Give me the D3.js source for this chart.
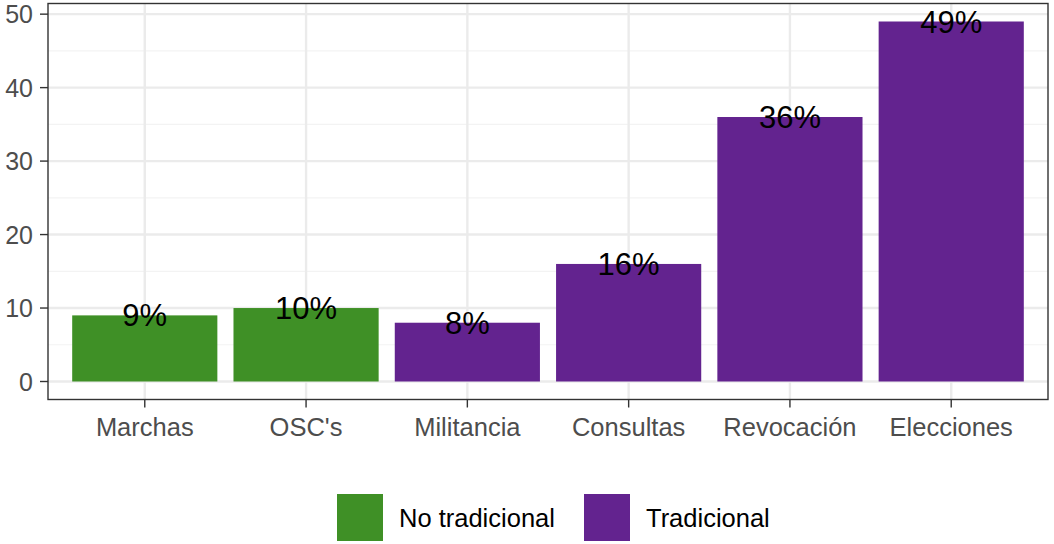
<!DOCTYPE html>
<html>
<head>
<meta charset="utf-8">
<script src="https://d3js.org/d3.v7.min.js"></script>
<style>
  body { margin: 0; background: #fff; }
  text { font-family: "Liberation Sans", Arial, sans-serif; }
</style>
</head>
<body>
<svg width="1054" height="544"></svg>
<script>
var categories = ["Marchas", "OSC's", "Militancia", "Consultas", "Revocación", "Elecciones"];
var values = [9, 10, 8, 16, 36, 49];
var groups = ["No tradicional", "No tradicional", "Tradicional", "Tradicional", "Tradicional", "Tradicional"];
var legendKeys = ["No tradicional", "Tradicional"];
var legendColors = ["#3F9026", "#63238F"];
var yTicks = [0, 10, 20, 30, 40, 50];
var yMinor = [5, 15, 25, 35, 45];

var svg = d3.select("svg");
var panel = {left: 48, right: 1048, top: 3.5, bottom: 399.5};

var y = d3.scaleLinear().domain([-2.45, 51.45]).range([panel.bottom, panel.top]);
var xc = d3.scaleLinear().domain([0.4, 6.6]).range([panel.left, panel.right]);
var color = d3.scaleOrdinal().domain(legendKeys).range(legendColors);

var data = categories.map(function(c, i) { return {cat: c, val: values[i], grp: groups[i], pos: i + 1}; });

// grid
var g = svg.append("g");
g.selectAll(".minor").data(yMinor).enter().append("line")
  .attr("x1", panel.left).attr("x2", panel.right)
  .attr("y1", d => y(d)).attr("y2", d => y(d))
  .attr("stroke", "#F3F3F3").attr("stroke-width", 1.2);
g.selectAll(".major").data(yTicks).enter().append("line")
  .attr("x1", panel.left).attr("x2", panel.right)
  .attr("y1", d => y(d)).attr("y2", d => y(d))
  .attr("stroke", "#EBEBEB").attr("stroke-width", 2.4);
g.selectAll(".vmajor").data(data).enter().append("line")
  .attr("x1", d => xc(d.pos)).attr("x2", d => xc(d.pos))
  .attr("y1", panel.top).attr("y2", panel.bottom)
  .attr("stroke", "#EBEBEB").attr("stroke-width", 2.4);

// bars
svg.selectAll(".bar").data(data).enter().append("rect")
  .attr("x", d => xc(d.pos - 0.45))
  .attr("width", d => xc(d.pos + 0.45) - xc(d.pos - 0.45))
  .attr("y", d => y(d.val))
  .attr("height", d => y(0) - y(d.val))
  .attr("fill", d => color(d.grp));

// labels
svg.selectAll(".lab").data(data).enter().append("text")
  .attr("x", d => xc(d.pos))
  .attr("y", d => y(d.val) + 11)
  .attr("text-anchor", "middle")
  .attr("font-size", 31)
  .attr("fill", "#000")
  .text(d => d.val + "%");

// panel border
svg.append("rect")
  .attr("x", panel.left).attr("y", panel.top)
  .attr("width", panel.right - panel.left).attr("height", panel.bottom - panel.top)
  .attr("fill", "none").attr("stroke", "#333").attr("stroke-width", 1.4);

// y axis
var ya = svg.append("g");
ya.selectAll("line").data(yTicks).enter().append("line")
  .attr("x1", panel.left - 8).attr("x2", panel.left)
  .attr("y1", d => y(d)).attr("y2", d => y(d))
  .attr("stroke", "#333").attr("stroke-width", 1.4);
ya.selectAll("text").data(yTicks).enter().append("text")
  .attr("x", panel.left - 15).attr("y", d => y(d) + 9)
  .attr("text-anchor", "end").attr("font-size", 25).attr("fill", "#4D4D4D")
  .text(d => d);

// x axis
var xa = svg.append("g");
xa.selectAll("line").data(data).enter().append("line")
  .attr("x1", d => xc(d.pos)).attr("x2", d => xc(d.pos))
  .attr("y1", panel.bottom).attr("y2", panel.bottom + 8)
  .attr("stroke", "#333").attr("stroke-width", 1.4);
xa.selectAll("text").data(data).enter().append("text")
  .attr("x", d => xc(d.pos)).attr("y", 436)
  .attr("text-anchor", "middle").attr("font-size", 25.5).attr("fill", "#4D4D4D")
  .text(d => d.cat);

// legend
var legX = [337, 584];
var lg = svg.append("g");
legendKeys.forEach(function(k, i) {
  lg.append("rect").attr("x", legX[i]).attr("y", 494).attr("width", 46).attr("height", 47)
    .attr("fill", color(k));
  lg.append("text").attr("x", legX[i] + 62).attr("y", 527)
    .attr("font-size", 25.5).attr("fill", "#000").text(k);
});
</script>
</body>
</html>
